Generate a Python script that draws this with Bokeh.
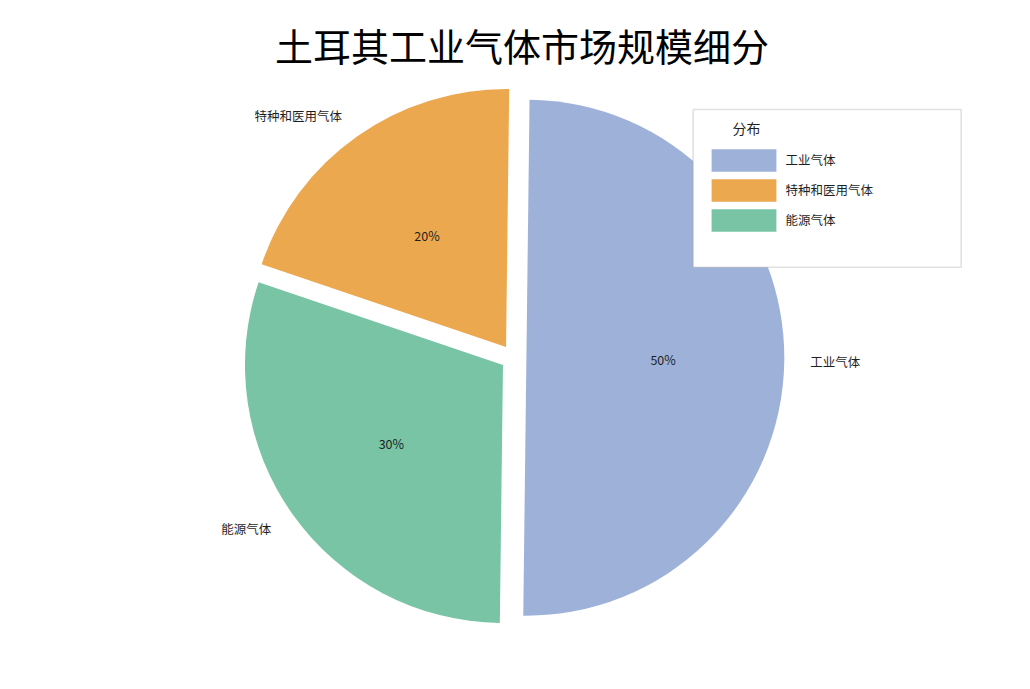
import math
from bokeh.plotting import figure
from bokeh.models import Range1d, ColumnDataSource, Legend, LegendItem, BoxAnnotation, Label
from bokeh.embed import file_html
from bokeh.resources import INLINE
from bokeh.core.properties import value

# ---- data ----
title_text = "土耳其工业气体市场规模细分"
legend_title = "分布"
categories = ["工业气体", "特种和医用气体", "能源气体"]
shares = [50, 20, 30]
colors = ["#9EB2D9", "#EBA84F", "#78C4A5"]

# ---- layout / style ----
W, H = 1014, 672
FONT = "Noto Sans CJK SC"
cx, cy = 513.0, 315.0      # pie centre (px, y up)
R = 258.0                  # pie radius (px)
explode = 0.05
start_deg = -90.7
label_dist = 1.1
pct_dist = 0.53

p = figure(width=W, height=H, x_range=Range1d(0, W), y_range=Range1d(0, H),
           x_axis_type=None, y_axis_type=None, toolbar_location=None,
           output_backend="svg", min_border=0, outline_line_color=None,
           background_fill_color="white", border_fill_color="white")

total = float(sum(shares))
xs, ys, st, en, mids = [], [], [], [], []
a = math.radians(start_deg)
for v in shares:
    span = 2 * math.pi * v / total
    m = a + span / 2
    xs.append(cx + explode * R * math.cos(m))
    ys.append(cy + explode * R * math.sin(m))
    st.append(a)
    en.append(a + span)
    mids.append(m)
    a += span

src = ColumnDataSource(dict(x=xs, y=ys, start=st, end=en, color=colors, cat=categories))
wr = p.wedge(x="x", y="y", radius=R, start_angle="start", end_angle="end",
             fill_color="color", line_color=None, source=src)

# category labels and percentages
for i, (c, v) in enumerate(zip(categories, shares)):
    m = mids[i]
    lx = xs[i] + label_dist * R * math.cos(m)
    ly = ys[i] + label_dist * R * math.sin(m)
    align = "left" if math.cos(m) >= 0 else "right"
    p.text(x=[lx], y=[ly], text=[c], text_align=align, text_baseline="middle",
           text_font=value(FONT), text_font_size="12.5px", text_color="#1f1f1f")
    px_ = xs[i] + pct_dist * R * math.cos(m)
    py_ = ys[i] + pct_dist * R * math.sin(m)
    p.text(x=[px_], y=[py_], text=["%d%%" % round(100 * v / total)], text_align="center",
           text_baseline="middle", text_font=value(FONT), text_font_size="12.5px",
           text_color="#1f1f1f")

# legend frame
box = BoxAnnotation(left=692.7, right=960.7, bottom=405.3, top=563.0,
                    fill_color="white", fill_alpha=1.0,
                    line_color="#9c9c9c", line_width=1.6)
p.add_layout(box)

legend = Legend(items=[LegendItem(label=c, renderers=[wr], index=i) for i, c in enumerate(categories)],
                location=(702.6, 438.2), orientation="vertical",
                glyph_width=81, glyph_height=28, spacing=2, padding=0, margin=0,
                label_standoff=2, label_text_font=FONT, label_text_font_size="12.5px",
                label_text_color="#1f1f1f", border_line_color=None,
                background_fill_alpha=0.0)
p.add_layout(legend)

p.add_layout(Label(x=746, y=545, text=legend_title, text_align="center", text_baseline="middle",
                   text_font=FONT, text_font_size="14px", text_color="#1f1f1f"))

p.add_layout(Label(x=521.5, y=628, text=title_text, text_align="center", text_baseline="middle",
                   text_font=FONT, text_font_size="38px", text_color="#000000"))

open("out.html", "w").write(file_html(p, INLINE))
